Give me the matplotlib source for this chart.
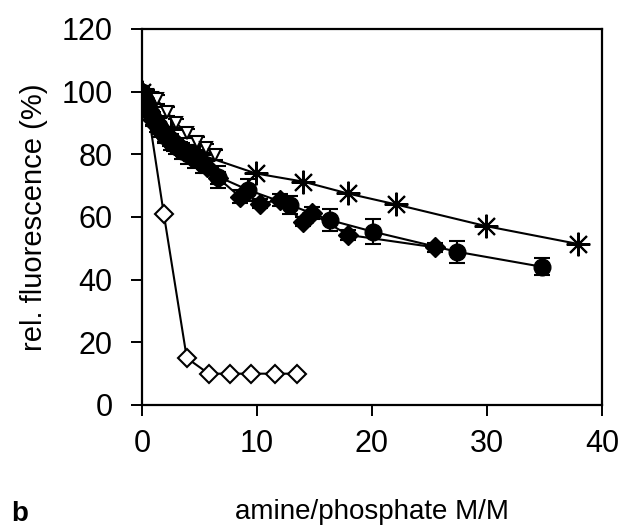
import matplotlib
matplotlib.use("Agg")
import matplotlib.pyplot as plt
import numpy as np

plt.rcParams["font.family"] = ["Liberation Sans", "DejaVu Sans"]

# open diamonds (no error bars)
x_open = [0, 0.4, 1.9, 3.9, 5.8, 7.7, 9.5, 11.6, 13.5]
y_open = [100, 97, 61, 15, 10, 10, 10, 10, 10]

# asterisks
x_ast = [0, 2.5, 5.0, 9.9, 14.0, 17.9, 22.1, 29.9, 37.9]
y_ast = [100, 88, 80, 73.9, 71.3, 67.5, 64.0, 57.1, 51.4]

# open down triangles with error bars
x_tri = [0, 0.45, 0.85, 1.3, 2.15, 3.0, 3.9, 4.75, 5.6, 6.35]
y_tri = [100, 99, 98, 97.5, 93.6, 89.9, 86.7, 84.0, 81.9, 79.8]
e_tri = [1.5, 1.5, 1.5, 1.5, 1.5, 1.5, 1.5, 1.5, 1.5, 1.5]

# filled diamonds with error bars
x_dia = [0, 0.2, 0.4, 0.6, 0.8, 1.0, 1.3, 1.6, 2.0, 2.4, 2.8, 3.3, 3.8, 4.3,
         5.0, 5.7, 6.6, 8.5, 10.3, 12.0, 14.0, 14.75, 17.9, 25.5]
y_dia = [100, 98, 96, 94, 92.5, 91, 89, 87.5, 86, 84.5, 83, 82, 81, 80,
         78, 76, 72.5, 66.5, 64.3, 65.4, 58.5, 61.2, 54.3, 50.3]
e_dia = [1, 1, 1.5, 1.5, 1.5, 2, 2, 2, 2, 2, 2, 2, 2, 2,
         2, 2, 2, 2, 1.5, 2, 1.5, 2, 1.5, 1.5]

# filled circles with error bars
x_cir = [0, 0.25, 0.5, 0.75, 1.0, 1.5, 2.0, 2.5, 3.0, 3.5, 4.0, 4.6, 5.3,
         6.6, 9.25, 12.9, 16.35, 20.1, 27.4, 34.8]
y_cir = [100, 97, 95, 93, 91.5, 89, 86, 84, 82.5, 81, 80, 78.5, 77,
         72.9, 68.6, 63.8, 59.0, 55.3, 48.9, 44.1]
e_cir = [1, 1.5, 2, 2, 2, 2.5, 2.5, 2.5, 2.5, 2.5, 3, 3, 3,
         3.5, 3.5, 3, 3.5, 4, 3.5, 2.7]

fig = plt.figure(figsize=(6.28, 5.27), dpi=100)
ax = fig.add_axes([0.226, 0.2315, 0.7326, 0.7135])

ax.plot(x_open, y_open, "-", color="k", lw=1.5, marker="D", ms=9,
        mfc="white", mec="k", mew=1.5, zorder=3)
ax.plot(x_ast, y_ast, "-", color="k", lw=1.5, marker=(8, 2, 0), ms=17,
        mew=1.5, zorder=3)
ax.errorbar(x_tri, y_tri, yerr=e_tri, fmt="-v", color="k", lw=1.5, ms=9,
            mfc="white", mec="k", mew=1.5, capsize=6, elinewidth=1.5,
            capthick=1.5, zorder=3)
ax.errorbar(x_dia, y_dia, yerr=e_dia, fmt="-D", color="k", lw=1.5, ms=10,
            mfc="k", capsize=6, elinewidth=1.5, capthick=1.5, zorder=4)
ax.errorbar(x_cir, y_cir, yerr=e_cir, fmt="-o", color="k", lw=1.5, ms=12,
            mfc="k", capsize=6, elinewidth=1.5, capthick=1.5, zorder=4)

ax.set_xlim(0, 40)
ax.set_ylim(0, 120)
ax.set_xticks([0, 10, 20, 30, 40])
ax.set_yticks([0, 20, 40, 60, 80, 100, 120])
ax.tick_params(direction="out", length=8, width=1.4, labelsize=22)
ax.tick_params(axis="x", pad=9)
ax.tick_params(axis="y", pad=13)
for s in ax.spines.values():
    s.set_linewidth(1.6)

ax.set_ylabel("rel. fluorescence (%)", fontsize=21, labelpad=10)
ax.set_xlabel("amine/phosphate M/M", fontsize=20, labelpad=29)
fig.text(0.018, 0.012, "b", fontsize=20, fontweight="bold")

fig.savefig("out.png", dpi=100)
